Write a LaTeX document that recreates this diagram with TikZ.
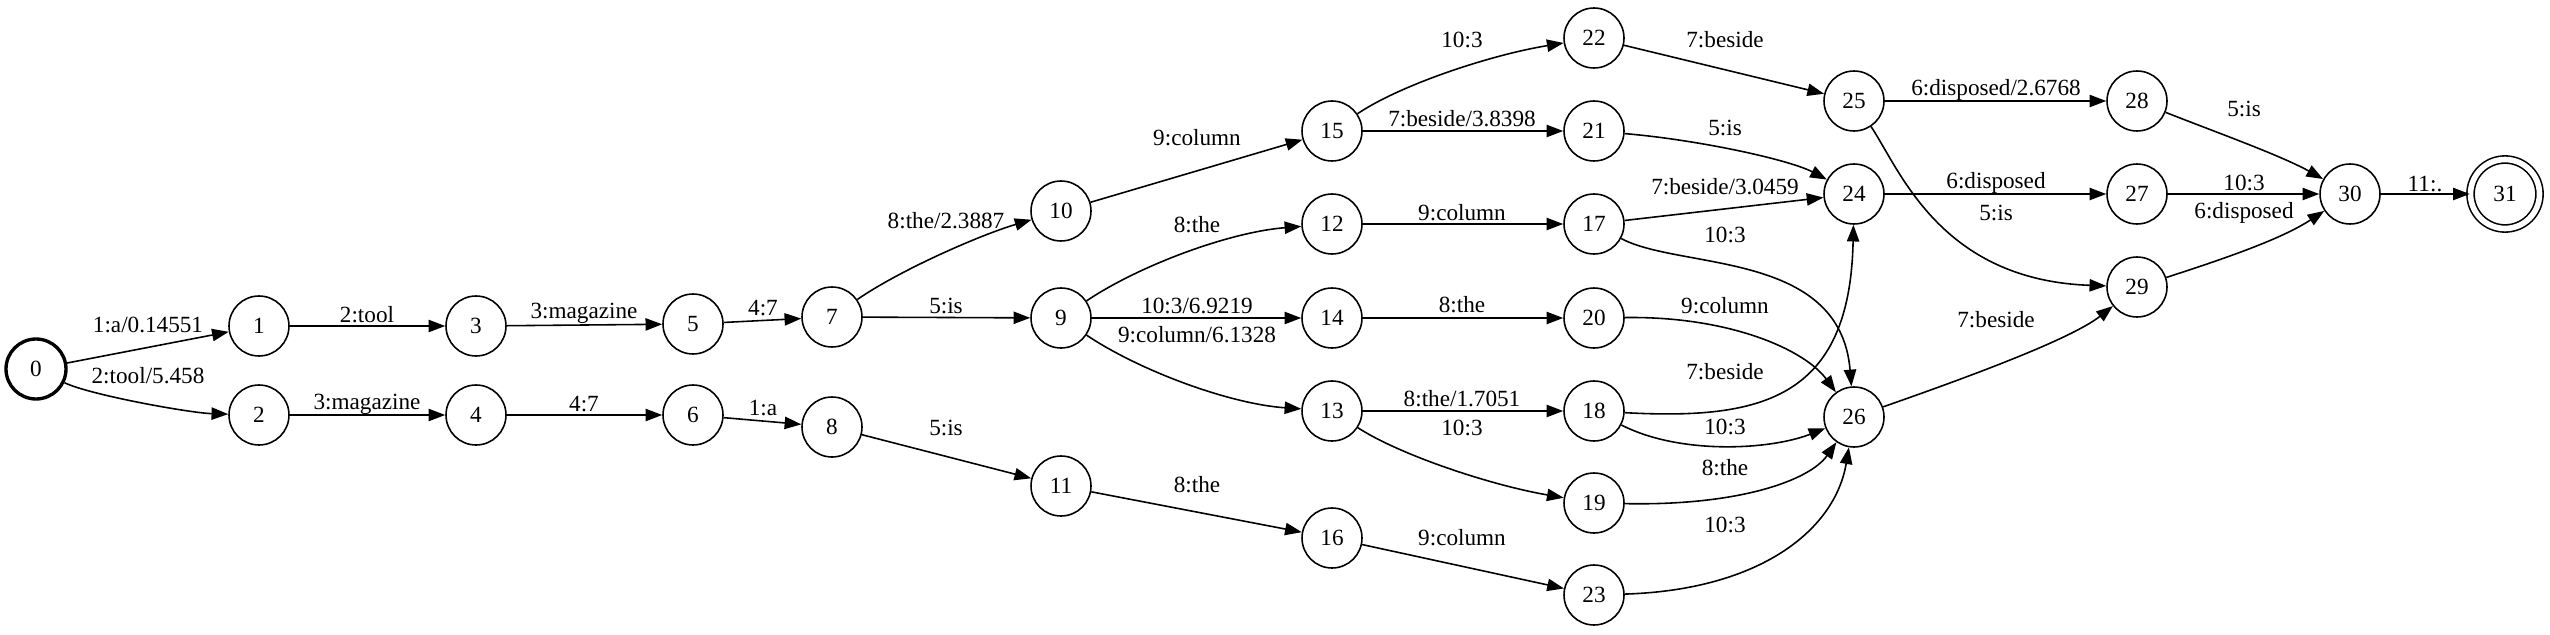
\documentclass[tikz,border=0pt]{standalone}
\usepackage{fontspec}
\setmainfont{Liberation Serif}
\usetikzlibrary{arrows.meta}

\begin{document}
\begin{tikzpicture}[x=0.02cm, y=0.02cm,
  >={Triangle[length=9.5pt,width=7pt]},
  every node/.style={font=\fontsize{13.2}{15}\selectfont},
  st/.style={draw, circle, line width=0.9pt, minimum size=1.2cm, inner sep=0pt},
  tr/.style={->, line width=0.9pt},
  lbl/.style={inner sep=1pt}]
\useasboundingbox (0,0) rectangle (2550,-635);
% States
\node[st, line width=1.9pt] (s0) at (36,-369) {0};
\node[st] (s1) at (259,-326) {1};
\node[st] (s2) at (259,-415) {2};
\node[st] (s3) at (476,-326) {3};
\node[st] (s4) at (476,-415) {4};
\node[st] (s5) at (693,-324) {5};
\node[st] (s6) at (693,-415) {6};
\node[st] (s7) at (832,-317) {7};
\node[st] (s8) at (832,-427) {8};
\node[st] (s9) at (1061,-318) {9};
\node[st] (s10) at (1061,-211) {10};
\node[st] (s11) at (1061,-486) {11};
\node[st] (s12) at (1332,-224) {12};
\node[st] (s13) at (1332,-411) {13};
\node[st] (s14) at (1332,-318) {14};
\node[st] (s15) at (1332,-131) {15};
\node[st] (s16) at (1332,-538) {16};
\node[st] (s17) at (1594,-224) {17};
\node[st] (s18) at (1594,-411) {18};
\node[st] (s19) at (1594,-503) {19};
\node[st] (s20) at (1594,-318) {20};
\node[st] (s21) at (1594,-131) {21};
\node[st] (s22) at (1594,-38) {22};
\node[st] (s23) at (1594,-595) {23};
\node[st] (s24) at (1854,-194) {24};
\node[st] (s25) at (1854,-101) {25};
\node[st] (s26) at (1854,-417) {26};
\node[st] (s27) at (2137,-194) {27};
\node[st] (s28) at (2137,-101) {28};
\node[st] (s29) at (2137,-287) {29};
\node[st] (s30) at (2350,-194) {30};
\node[st, double, double distance=3.2pt, minimum size=1.38cm] (s31) at (2505,-194) {31};
% Arcs, first column
\draw[tr] (s0) -- (s1) node[lbl] (a0) at (148,-325) {1:a/0.14551};
\draw[tr] (s0) .. controls (90,-395) and (190,-413) .. (s2) node[lbl] (a1) at (148,-376) {2:tool/5.458};
\draw[tr] (s1) -- (s3) node[lbl] (a2) at (367,-315) {2:tool};
\draw[tr] (s2) -- (s4) node[lbl] (a3) at (367,-404) {3:magazine};
\draw[tr] (s3) -- (s5) node[lbl] (a4) at (584,-313) {3:magazine};
\draw[tr] (s4) -- (s6) node[lbl] (a5) at (584,-404) {4:7};
\draw[tr] (s5) -- (s7) node[lbl] (a6) at (763,-308) {4:7};
\draw[tr] (s6) -- (s8) node[lbl] (a7) at (763,-408) {1:a};
% Arcs, middle
\draw[tr] (s7) .. controls (900,-270) and (980,-235) .. (s10) node[lbl] (a8) at (946,-221) {8:the/2.3887};
\draw[tr] (s7) -- (s9) node[lbl] (a9) at (946,-306) {5:is};
\draw[tr] (s8) -- (s11) node[lbl] (a10) at (946,-428) {5:is};
\draw[tr] (s10) -- (s15) node[lbl] (a11) at (1197,-138) {9:column};
\draw[tr] (s9) .. controls (1140,-265) and (1230,-232) .. (s12) node[lbl] (a12) at (1197,-225) {8:the};
\draw[tr] (s9) -- (s14) node[lbl] (a13) at (1197,-306) {10:3/6.9219};
\draw[tr] (s9) .. controls (1140,-371) and (1230,-404) .. (s13) node[lbl] (a14) at (1197,-335) {9:column/6.1328};
\draw[tr] (s11) -- (s16) node[lbl] (a15) at (1197,-485) {8:the};
\draw[tr] (s15) .. controls (1400,-85) and (1490,-55) .. (s22) node[lbl] (a16) at (1462,-40) {10:3};
\draw[tr] (s15) -- (s21) node[lbl] (a17) at (1462,-119) {7:beside/3.8398};
\draw[tr] (s12) -- (s17) node[lbl] (a18) at (1462,-213) {9:column};
\draw[tr] (s14) -- (s20) node[lbl] (a19) at (1462,-305) {8:the};
\draw[tr] (s13) -- (s18) node[lbl] (a20) at (1462,-399) {8:the/1.7051};
\draw[tr] (s13) .. controls (1400,-455) and (1490,-485) .. (s19) node[lbl] (a21) at (1462,-428) {10:3};
\draw[tr] (s16) -- (s23) node[lbl] (a22) at (1462,-538) {9:column};
% Arcs into 24, 25, 26
\draw[tr] (s22) -- (s25) node[lbl] (a23) at (1725,-40) {7:beside};
\draw[tr] (s21) .. controls (1700,-140) and (1790,-160) .. (s24) node[lbl] (a24) at (1725,-128) {5:is};
\draw[tr] (s17) -- (s24) node[lbl] (a25) at (1725,-187) {7:beside/3.0459};
\draw[tr] (s17) .. controls (1680,-270) and (1840,-250) .. (s26) node[lbl] (a26) at (1725,-235) {10:3};
\draw[tr] (s20) .. controls (1730,-316) and (1805,-350) .. (s26) node[lbl] (a27) at (1725,-306) {9:column};
\draw[tr] (s18) .. controls (1760,-420) and (1850,-400) .. (s24) node[lbl] (a28) at (1725,-372) {7:beside};
\draw[tr] (s18) .. controls (1680,-455) and (1770,-450) .. (s26) node[lbl] (a29) at (1725,-427) {10:3};
\draw[tr] (s19) .. controls (1740,-506) and (1810,-480) .. (s26) node[lbl] (a30) at (1725,-468) {8:the};
\draw[tr] (s23) .. controls (1760,-590) and (1835,-530) .. (s26) node[lbl] (a31) at (1725,-525) {10:3};
% Arcs, last columns
\draw[tr] (s25) -- (s28) node[lbl] (a32) at (1996,-90) {6:disposed/2.6768};
\draw[tr] (s24) -- (s27) node[lbl] (a33) at (1996,-183) {6:disposed};
\draw[tr] (s25) .. controls (1900,-170) and (1940,-280) .. (s29) node[lbl] (a34) at (1996,-213) {5:is};
\draw[tr] (s26) .. controls (1960,-380) and (2070,-340) .. (s29) node[lbl] (a35) at (1996,-320) {7:beside};
\draw[tr] (s28) .. controls (2210,-130) and (2280,-155) .. (s30) node[lbl] (a36) at (2244,-109) {5:is};
\draw[tr] (s27) -- (s30) node[lbl] (a37) at (2244,-183) {10:3};
\draw[tr] (s29) .. controls (2220,-260) and (2280,-240) .. (s30) node[lbl] (a38) at (2244,-213) {6:disposed};
\draw[tr] (s30) -- (s31) node[lbl] (a39) at (2425,-184) {11:.};
\end{tikzpicture}
\end{document}
